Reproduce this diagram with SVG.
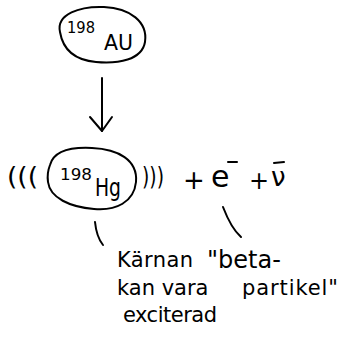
<svg xmlns="http://www.w3.org/2000/svg" width="344" height="337" viewBox="0 0 344 337">
<style>
.s{fill:none;stroke:#000;stroke-width:2;stroke-linecap:round;stroke-linejoin:round}
.t{font-family:"DejaVu Sans","Liberation Sans",sans-serif;fill:#000}
.l{font-size:21px}
</style>
<rect width="344" height="337" fill="#fff"/>
<g id="au">
<path class="s" d="M60,32 C56,14 80,6 104,7 C130,8 148,22 145,42 C142,60 118,64 96,62 C74,60 63,50 60,32 Z"/>
<text class="t" x="67" y="33" font-size="16" textLength="28" lengthAdjust="spacingAndGlyphs">198</text>
<text class="t" x="104" y="50" font-size="22" textLength="29" lengthAdjust="spacingAndGlyphs">AU</text>
</g>
<g id="connectors">
<path class="s" stroke-width="1.3" d="M102,78 L102,131"/>
<path class="s" stroke-width="1.3" d="M90,117 L102,131 L112,117"/>
<path class="s" stroke-width="1.3" d="M95,222 C96,232 99,240 103,245"/>
<path class="s" stroke-width="1.3" d="M223,207 C228,220 233,230 241,237"/>
</g>
<g id="hg">
<path class="s" d="M50,165 C54,150 72,147 92,148 C118,149 138,160 136,182 C134,202 116,211 94,209 C70,207 50,198 48,182 C47,175 48,170 50,165 Z"/>
<text class="t" x="60" y="180" font-size="15" textLength="32" lengthAdjust="spacingAndGlyphs">198</text>
<text class="t" x="95" y="196" font-size="25" textLength="26" lengthAdjust="spacingAndGlyphs">Hg</text>
<text class="t" x="7" y="185" font-size="24" textLength="31" lengthAdjust="spacingAndGlyphs">(((</text>
<text class="t" x="142" y="185" font-size="24" textLength="22" lengthAdjust="spacingAndGlyphs">)))</text>
</g>
<g id="products">
<text class="t" x="183" y="189" font-size="26">+</text>
<text class="t" x="211" y="187" font-size="30">e</text>
<path class="s" stroke-width="1.5" d="M228,162 L237,162"/>
<text class="t" x="249" y="189" font-size="24">+</text>
<text class="t" x="271" y="186" font-size="26">ν</text>
<path class="s" stroke-width="1.3" d="M274,163 L284,162"/>
</g>
<g id="labels">
<text class="t l" x="117" y="267" textLength="76" lengthAdjust="spacing">Kärnan</text>
<text class="t" x="207" y="268" font-size="24">"beta-</text>
<text class="t" x="117" y="295" font-size="21">kan vara</text>
<text class="t l" x="242" y="295" textLength="96" lengthAdjust="spacing">partikel"</text>
<text class="t l" x="123" y="322" textLength="94" lengthAdjust="spacing">exciterad</text>
</g>
</svg>
